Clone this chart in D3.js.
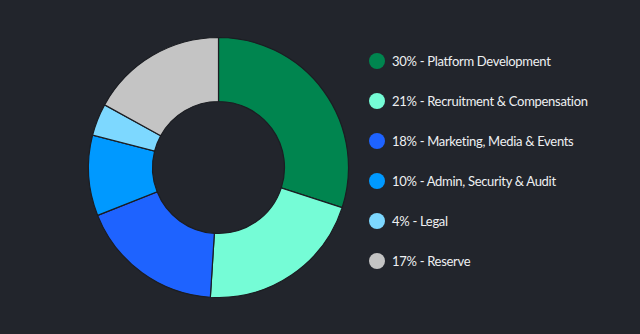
<!DOCTYPE html>
<html>
<head>
<meta charset="utf-8">
<script src="https://cdn.jsdelivr.net/npm/d3@7"></script>
<style>
  html, body { margin: 0; padding: 0; background: #22252c; }
  svg { display: block; }
</style>
</head>
<body>
<svg id="chart" width="640" height="334"></svg>
<script>
// Budget allocation shares
const categories = [
  "Platform Development",
  "Recruitment & Compensation",
  "Marketing, Media & Events",
  "Admin, Security & Audit",
  "Legal",
  "Reserve"
];
const shares = [30, 21, 18, 10, 4, 17];
const colors = ["#00854f", "#75fcd6", "#1e63ff", "#0099ff", "#7dd8ff", "#c4c4c4"];

const data = categories.map((c, i) => ({ name: c, value: shares[i], color: colors[i] }));

const svg = d3.select("#chart");
const cx = 218.5, cy = 167.5, outerR = 130, innerR = 66;

const pie = d3.pie().value(d => d.value).sort(null);
const arc = d3.arc().innerRadius(innerR).outerRadius(outerR);

svg.append("g")
  .attr("transform", `translate(${cx},${cy})`)
  .selectAll("path")
  .data(pie(data))
  .join("path")
  .attr("d", arc)
  .attr("fill", d => d.data.color)
  .attr("stroke", "#1b1d22")
  .attr("stroke-width", 1.2);

// Legend
const legendY = d3.scalePoint().domain(categories).range([61, 261]);
const legend = svg.append("g");
const rows = legend.selectAll("g")
  .data(data)
  .join("g")
  .attr("transform", d => `translate(377,${legendY(d.name)})`);

rows.append("circle")
  .attr("r", 8)
  .attr("fill", d => d.color);

rows.append("text")
  .attr("x", 15)
  .attr("dy", "0.35em")
  .attr("fill", "#eef0f2")
  .style("font-family", "Lato, 'Open Sans', sans-serif")
  .style("font-size", "13px")
  .style("letter-spacing", "-0.3px")
  .text(d => `${d.value}% - ${d.name}`);
</script>
</body>
</html>
